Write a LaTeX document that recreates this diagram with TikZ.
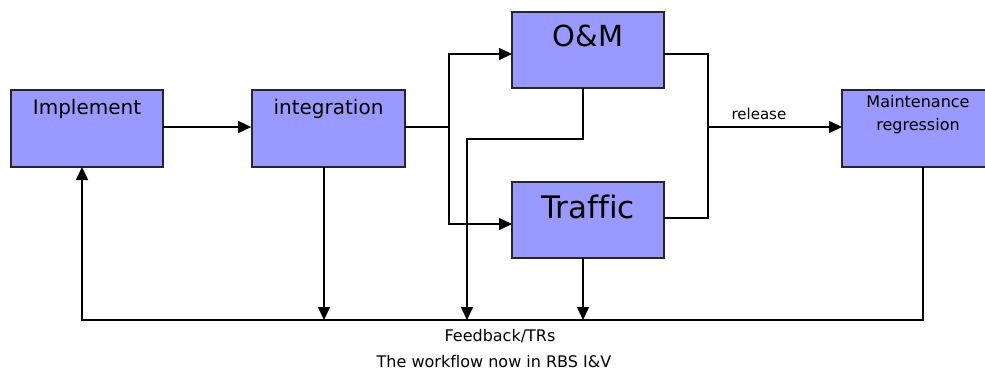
\documentclass[tikz,border=0pt]{standalone}
\usepackage{fontspec}
\setmainfont[Ligatures=NoCommon]{DejaVu Sans}
\usetikzlibrary{arrows.meta,calc}
\definecolor{boxblue}{HTML}{9999FF}
\begin{document}
\begin{tikzpicture}[x=1pt,y=-1pt,
  box/.style={draw=black!85,line width=1.6pt,fill=boxblue,minimum width=152pt,minimum height=77pt,inner sep=0pt},
  txt/.style={inner sep=0pt,align=center},
  conn/.style={line width=1.6pt,line join=miter},
  arr/.style={conn,-{Triangle[length=13pt,width=12pt]}}]
\clip (0,0) rectangle (985,373);
\useasboundingbox (0,0) rectangle (985,373);
% boxes
\node[box] (impl) at (87,128.5) {};
\node[box,minimum width=153pt] (integ) at (328.5,128.5) {};
\node[box,minimum height=76pt] (om) at (588,50) {};
\node[box,minimum height=76pt] (traf) at (588,220) {};
\node[box,minimum width=162pt] (maint) at (923,128.5) {};
% texts
\node[txt,font=\fontsize{20}{24}\selectfont] (timpl) at (87,109) {Implement};
\node[txt,font=\fontsize{20}{24}\selectfont] (tinteg) at (328.5,109) {integration};
\node[txt,font=\fontsize{29}{34}\selectfont] (tom) at (588,36) {O\&M};
\node[txt,font=\fontsize{31}{36}\selectfont] (ttraf) at (588,207) {Traffic};
\node[txt,font=\fontsize{16}{23}\selectfont] (tmaint) at (918,115) {Maintenance\\regression};
% coordinates
\coordinate (s1) at (449,127);
\coordinate (omin) at (512,54);
\coordinate (trin) at (512,224);
\coordinate (omout) at (664,54);
\coordinate (trout) at (664,218);
\coordinate (j) at (708,127);
\coordinate (mi) at (842,127);
\coordinate (ombot) at (583,88);
\coordinate (omk) at (467,139);
\coordinate (fb1) at (467,320);
\coordinate (trbot) at (583,258);
\coordinate (fb2) at (583,320);
\coordinate (inbot) at (324,167);
\coordinate (fb3) at (324,320);
\coordinate (mbot) at (923,167);
\coordinate (fbr) at (923,320);
\coordinate (fbl) at (82,320);
\coordinate (imbot) at (82,167);
% connectors
\draw[arr] (163,127) coordinate (imout) -- (integ.west |- imout);
\draw[conn] (405,127) coordinate (inout) -- (s1);
\draw[arr] (s1) |- (omin);
\draw[arr] (s1) |- (trin);
\draw[conn] (omout) -| (j) |- (trout);
\draw[arr] (j) -- node[above=3pt,font=\fontsize{15}{18}\selectfont,pos=0.38] (rel) {release} (mi);
\draw[arr] (ombot) |- (omk) -- (fb1);
\draw[arr] (trbot) -- (fb2);
\draw[arr] (inbot) -- (fb3);
\draw[arr] (mbot) -- (fbr) -- (fbl) -- (imbot);
% captions
\node[txt,font=\fontsize{16}{19}\selectfont] (fb) at (500,336) {Feedback/TRs};
\node[txt,font=\fontsize{16}{19}\selectfont] (cap) at (494,362) {The workflow now in RBS I\&V};
\end{tikzpicture}
\end{document}
